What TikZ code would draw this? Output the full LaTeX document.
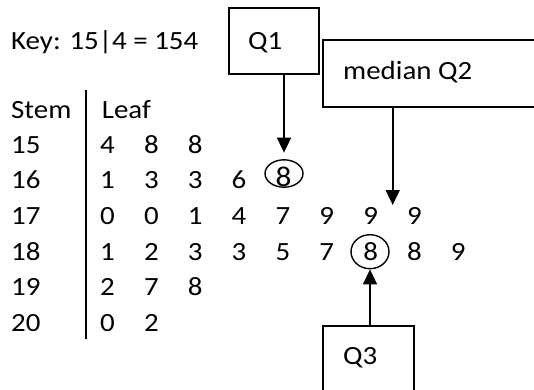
\documentclass[tikz,border=0pt]{standalone}
\usepackage{fontspec}
\setmainfont{Carlito}[FakeStretch=1.1]
\usetikzlibrary{arrows.meta,shapes.geometric}
\begin{document}
\begin{tikzpicture}[x=1pt,y=-1pt,
  txt/.style={inner sep=0pt,anchor=base west,font=\fontsize{26.3}{30}\selectfont},
  leaf/.style={inner sep=0pt,anchor=base,font=\fontsize{26.3}{30}\selectfont},
  box/.style={draw,line width=1.9pt,inner sep=0pt},
  ring/.style={draw,ellipse,line width=1.4pt,inner sep=0pt},
  arr/.style={line width=1.8pt,-{Triangle[width=14pt,length=15pt]}}]
\useasboundingbox (0,0) rectangle (534,389);
\clip (0,0) rectangle (534,389);
% key and headers
\node[txt] (key) at (11,49.3) {Key: 15|4 = 154};
\node[txt] (stem) at (11,118.3) {Stem};
\node[txt] (leafh) at (101.7,118.3) {Leaf};
\coordinate (vtop) at (86,90);
\coordinate (vbot) at (86,339);
\draw[line width=1.9pt] (vtop) -- (vbot);
% stems
\foreach \s [count=\i from 0] in {15,16,17,18,19,20}
  \node[txt] (s\s) at (11,153+35.7*\i) {\s};
% leaves
\foreach \r/\ls in {0/{4,8,8},1/{1,3,3,6},2/{0,0,1,4,7,9,9,9},3/{1,2,3,3,5,7,8,8,9},4/{2,7,8},5/{0,2}}
  \foreach \d [count=\k from 0] in \ls
    \node[leaf] (l\r-\k) at (107.5+43.85*\k,153+35.7*\r) {\d};
% circled 8 in row 16
\node[leaf,font=\fontsize{28.5}{30}\selectfont] (l1-4) at (283.6,186.6) {8};
\node[ring,minimum width=38pt,minimum height=27.4pt] (c1) at (284,173.5) {};
\node[ring,minimum width=38pt,minimum height=34pt] (c3) at (370,251.7) {};
% boxes
\node[box,anchor=north west,minimum width=90pt,minimum height=66pt] (q1box) at (228,7) {};
\node[txt] (q1) at (248,49) {Q1};
\node[box,anchor=north west,minimum width=260pt,minimum height=66.7pt] (q2box) at (321.7,39.3) {};
\node[txt] (q2) at (343,79) {median Q2};
\node[box,anchor=north west,minimum width=91.6pt,minimum height=100pt] (q3box) at (321.7,325) {};
\node[txt] (q3) at (343,364) {Q3};
% arrows
\draw[arr] (q1box.south -| c1.north) -- ([yshift=6.5pt]c1.north);
\coordinate (q2tip) at (392.7,205);
\draw[arr] (q2box.south -| q2tip) -- (q2tip);
\draw[arr] (q3box.north -| c3.south) -- (c3.south);
\end{tikzpicture}
\end{document}
